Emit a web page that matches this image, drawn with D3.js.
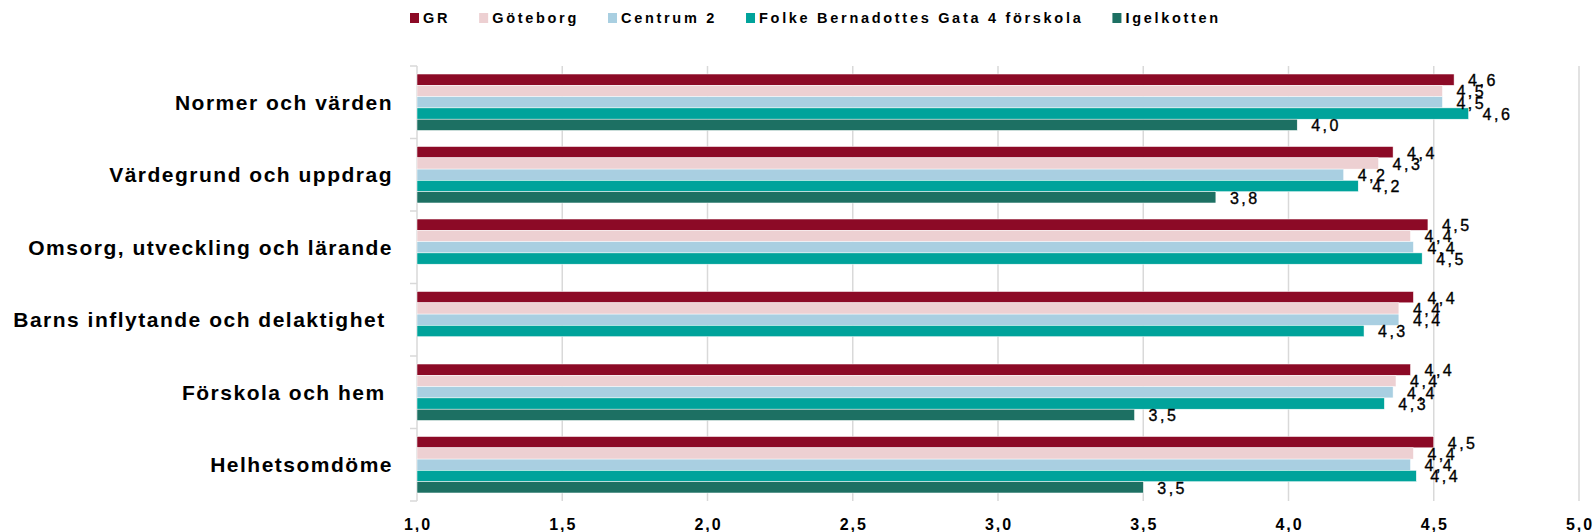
<!DOCTYPE html>
<html>
<head>
<meta charset="utf-8">
<script src="https://cdn.jsdelivr.net/npm/d3@7"></script>
<style>
  body { margin: 0; background: #fff; }
  svg { display: block; font-family: "Liberation Sans", Arial, sans-serif; }
</style>
</head>
<body>
<svg id="chart" width="1595" height="532"></svg>
<script>
'use strict';

var categories = [
    'Normer och värden',
    'Värdegrund och uppdrag',
    'Omsorg, utveckling och lärande',
    'Barns inflytande och delaktighet ',
    'Förskola och hem ',
    'Helhetsomdöme'
];
var seriesNames = ['GR', 'Göteborg', 'Centrum 2', 'Folke Bernadottes Gata 4 förskola', 'Igelkotten'];
var seriesColors = ['#8c0a26', '#edd0d2', '#a9cfe1', '#00a39b', '#1d7063'];

var grValues = [4.57, 4.36, 4.48, 4.43, 4.42, 4.50];
var goteborgValues = [4.53, 4.31, 4.42, 4.38, 4.37, 4.43];
var centrumValues = [4.53, 4.19, 4.43, 4.38, 4.36, 4.42];
var folkeValues = [4.62, 4.24, 4.46, 4.26, 4.33, 4.44];
var igelkottenValues = [4.03, 3.75, null, null, 3.47, 3.50];

var xTicks = [1.0, 1.5, 2.0, 2.5, 3.0, 3.5, 4.0, 4.5, 5.0];

var allValues = [grValues, goteborgValues, centrumValues, folkeValues, igelkottenValues];

var svg = d3.select('#chart');
var sv = d3.formatLocale({ decimal: ',', thousands: ' ', grouping: [3], currency: ['', ' kr'] });
var fmt = sv.format('.1f');

var x = d3.scaleLinear().domain([1, 5]).range([417, 1579]);
var y0 = d3.scaleBand().domain(categories).range([66, 501]).padding(0);
var y1 = d3.scaleBand().domain(seriesNames).range([0, y0.bandwidth()])
    .paddingInner(0).paddingOuter(0.71);

// gridlines
svg.append('g')
    .selectAll('line')
    .data(xTicks.slice(1))
    .join('line')
    .attr('x1', function (d) { return x(d); })
    .attr('x2', function (d) { return x(d); })
    .attr('y1', 66)
    .attr('y2', 501)
    .style('stroke', '#d9d9d9')
    .style('stroke-width', 1.5);

// y axis line + ticks at band edges
var yAxis = svg.append('g');
yAxis.append('line')
    .attr('x1', x(1)).attr('x2', x(1))
    .attr('y1', 66).attr('y2', 501)
    .style('stroke', '#d9d9d9').style('stroke-width', 1.5);
yAxis.selectAll('.edge')
    .data(categories.map(function (c) { return y0(c); }).concat([501]))
    .join('line')
    .attr('x1', x(1) - 7).attr('x2', x(1))
    .attr('y1', function (d) { return d; })
    .attr('y2', function (d) { return d; })
    .style('stroke', '#d9d9d9').style('stroke-width', 1.5);

// category labels
svg.append('g')
    .selectAll('text')
    .data(categories)
    .join('text')
    .attr('x', 393)
    .attr('y', function (d) { return y0(d) + y0.bandwidth() / 2; })
    .attr('dy', '0.36em')
    .attr('text-anchor', 'end')
    .style('white-space', 'pre')
    .style('font-size', '21px')
    .style('font-weight', 'bold')
    .style('letter-spacing', '1.5px')
    .style('fill', '#000')
    .text(function (d) { return d; });

// bars
var rows = [];
categories.forEach(function (c, i) {
    seriesNames.forEach(function (s, j) {
        var v = allValues[j][i];
        if (v != null) rows.push({ cat: c, series: s, idx: j, value: v });
    });
});

var groups = svg.append('g');
groups.selectAll('rect')
    .data(rows)
    .join('rect')
    .attr('x', x(1))
    .attr('y', function (d) { return y0(d.cat) + y1(d.series); })
    .attr('width', function (d) { return x(d.value) - x(1); })
    .attr('height', y1.bandwidth())
    .style('fill', function (d) { return seriesColors[d.idx]; })
    .style('stroke', '#fff')
    .style('stroke-width', 0.5);

groups.selectAll('text')
    .data(rows)
    .join('text')
    .attr('x', function (d) { return x(d.value) + 14; })
    .attr('y', function (d) { return y0(d.cat) + y1(d.series) + y1.bandwidth() / 2; })
    .attr('dy', '0.4em')
    .style('font-size', '16px')
    .style('letter-spacing', '2.5px')
    .style('fill', '#000')
    .style('stroke', '#000')
    .style('stroke-width', 0.35)
    .text(function (d) { return fmt(d.value); });

// x tick labels
svg.append('g')
    .selectAll('text')
    .data(xTicks)
    .join('text')
    .attr('x', function (d) { return x(d) + 1; })
    .attr('y', 530)
    .attr('text-anchor', 'middle')
    .style('font-size', '16px')
    .style('font-weight', 'bold')
    .style('letter-spacing', '2px')
    .style('fill', '#000')
    .text(function (d) { return fmt(d); });

// legend
var legend = svg.append('g');
var lx = 410;
seriesNames.forEach(function (s, i) {
    legend.append('rect')
        .attr('x', lx).attr('y', 13)
        .attr('width', 9).attr('height', 10)
        .style('fill', seriesColors[i]);
    var t = legend.append('text')
        .attr('x', lx + 13).attr('y', 18)
        .attr('dy', '0.36em')
        .style('font-size', '14.5px')
        .style('font-weight', 'bold')
        .style('letter-spacing', '2.7px')
        .style('fill', '#000')
        .text(s);
    lx += 13 + t.node().getComputedTextLength() + 29;
});
</script>
</body>
</html>
